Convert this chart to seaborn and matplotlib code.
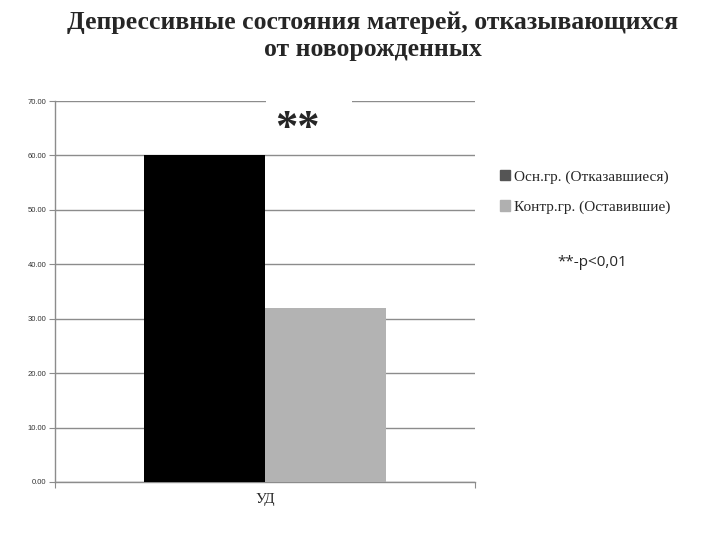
import numpy as np
import pandas as pd
import seaborn as sns
import matplotlib.pyplot as plt
from matplotlib.patches import Patch

# data
categories = ["УД"]
groups = ["Осн.гр. (Отказавшиеся)", "Контр.гр. (Оставившие)"]
values_main = [60.0]
values_ctrl = [32.0]
bar_colors = ["#000000", "#b3b3b3"]
legend_colors = ["#555555", "#b0b0b0"]
y_ticks = [0, 10, 20, 30, 40, 50, 60, 70]

title = "Депрессивные состояния матерей, отказывающихся\nот новорожденных"
signif = "**"
note = "**-p<0,01"

df = pd.DataFrame({
    "cat": categories * 2,
    "group": [groups[0]] * len(values_main) + [groups[1]] * len(values_ctrl),
    "value": values_main + values_ctrl,
})

sns.set_style("white")
plt.rcParams["font.family"] = ["DejaVu Sans"]

fig = plt.figure(figsize=(7.2, 5.4), dpi=100)
ax = fig.add_axes([55 / 720, 1 - 482 / 540, 420 / 720, 381 / 540])

sns.barplot(data=df, x="cat", y="value", hue="group", palette=bar_colors,
            width=0.574, saturation=1, ax=ax, legend=False, zorder=3,
            linewidth=0, edgecolor="none")

ax.set_xlim(-0.5, 0.5)
ax.set_ylim(0, 70)
ax.set_yticks(y_ticks)
ax.set_yticklabels([f"{t:.2f}" for t in y_ticks], fontsize=5.5,
                   family="Liberation Sans", color="#333333")
ax.yaxis.grid(True, color="#8c8c8c", linewidth=1, zorder=0)
ax.set_axisbelow(True)
ax.tick_params(axis="y", left=True, length=4, width=0.8, color="#8c8c8c", pad=2)
ax.set_xticks([0])
ax.set_xticklabels(categories, fontsize=11, family="Liberation Serif")
ax.set_xticks([-0.5, 0.5], minor=True)
ax.tick_params(axis="x", which="major", length=0, pad=8)
ax.tick_params(axis="x", which="minor", bottom=True, length=4, width=0.8, color="#8c8c8c")
ax.set_xlabel("")
ax.set_ylabel("")
for s in ["top", "right"]:
    ax.spines[s].set_visible(False)
for s in ["left", "bottom"]:
    ax.spines[s].set_color("#8c8c8c")
    ax.spines[s].set_linewidth(1)

# white box of the text frame hides part of the top gridline, like in the original
ax.text(0.104, 70, "\u2003\u2003\u2003", ha="center", va="center", fontsize=20,
        zorder=4, bbox=dict(boxstyle="square,pad=0.05", fc="white", ec="none"))
ax.text(0.076, 64.8, signif, ha="center", va="center", fontsize=32,
        fontweight="bold", family="Liberation Serif", zorder=5)

handles = [Patch(color=c, label=g) for c, g in zip(legend_colors, groups)]
fig.legend(handles=handles, loc="upper left", bbox_to_anchor=(486 / 720, 1 - 156 / 540),
           frameon=False, prop={"family": "Liberation Serif", "size": 11},
           handlelength=0.7, handleheight=0.7, handletextpad=0.2, labelspacing=1.1)

fig.text(592 / 720, 1 - 262 / 540, note, ha="center", va="center",
         fontsize=11, family="Open Sans")

fig.text(373 / 720, 1 - 36 / 540, title, ha="center", va="center",
         fontsize=18.5, fontweight="bold", family="Liberation Serif", linespacing=1.25)

fig.savefig("out.png", dpi=100)
